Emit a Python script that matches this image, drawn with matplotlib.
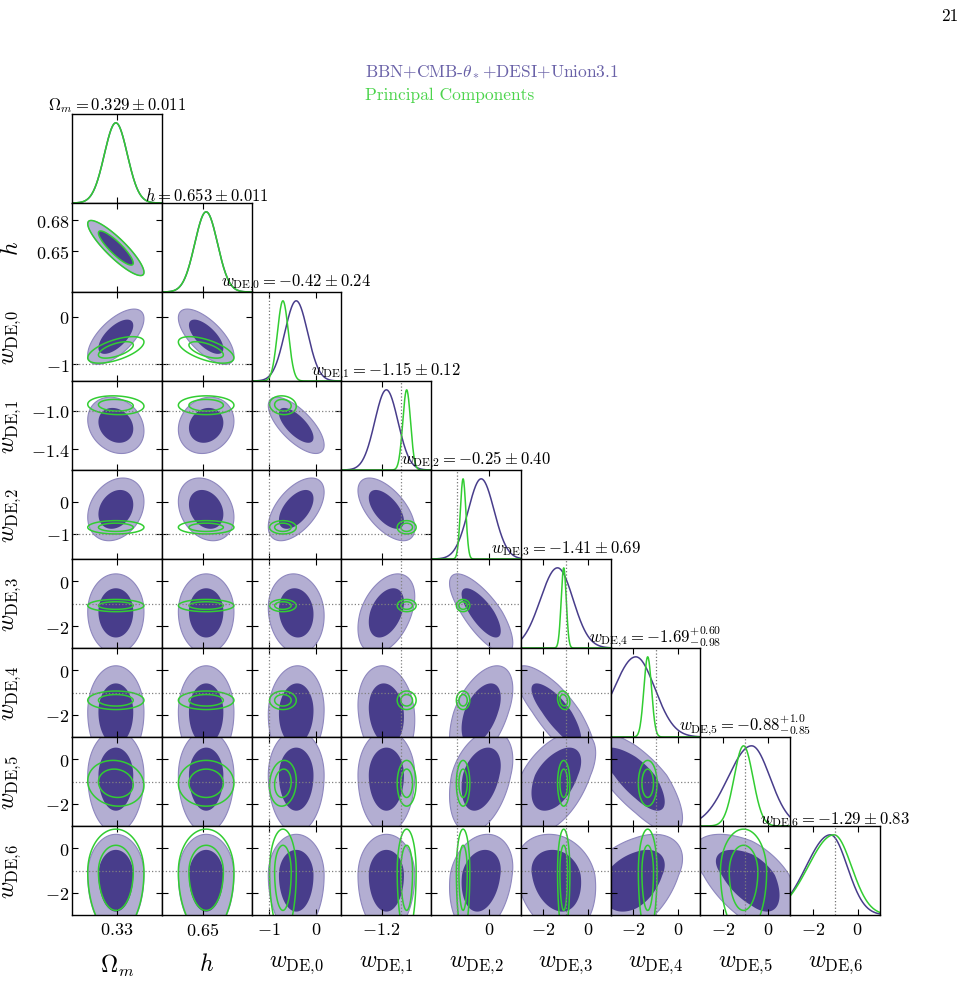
import numpy as np
import matplotlib
matplotlib.use("Agg")
import matplotlib.pyplot as plt

plt.rcParams['mathtext.fontset'] = 'cm'
plt.rcParams['font.family'] = 'serif'
plt.rcParams['font.serif'] = ['cmr10', 'DejaVu Serif']
plt.rcParams['axes.unicode_minus'] = False

# parameters, axis ranges, ticks
labels = [r'$\Omega_m$', r'$h$'] + [r'$w_{\rm DE{,}%d}$' % k for k in range(7)]
titles = [r'$\Omega_m = 0.329 \pm 0.011$',
          r'$h = 0.653 \pm 0.011$',
          r'$w_{\rm DE{,}0} = -0.42 \pm 0.24$',
          r'$w_{\rm DE{,}1} = -1.15 \pm 0.12$',
          r'$w_{\rm DE{,}2} = -0.25 \pm 0.40$',
          r'$w_{\rm DE{,}3} = -1.41 \pm 0.69$',
          r'$w_{\rm DE{,}4} = -1.69^{+0.60}_{-0.98}$',
          r'$w_{\rm DE{,}5} = -0.88^{+1.0}_{-0.85}$',
          r'$w_{\rm DE{,}6} = -1.29 \pm 0.83$']
lims = [(0.287, 0.373), (0.610, 0.697), (-1.36, 0.53), (-1.616, -0.687),
        (-1.79, 0.99), (-2.95, 0.97), (-3.0, 1.0), (-3.0, 1.0), (-3.0, 1.0)]
xticks = [[0.33], [0.65], [-1, 0], [-1.2], [0], [-2, 0], [-2, 0], [-2, 0], [-2, 0]]
xticklabels = [['0.33'], ['0.65'], ['-1', '0'], ['-1.2'], ['0'],
               ['-2', '0'], ['-2', '0'], ['-2', '0'], ['-2', '0']]
yticks = [[], [0.65, 0.68], [-1, 0], [-1.4, -1.0], [-1, 0], [-2, 0], [-2, 0], [-2, 0], [-2, 0]]
yticklabels = [[], ['0.65', '0.68'], ['-1', '0'], ['-1.4', '-1.0'], ['-1', '0'],
               ['-2', '0'], ['-2', '0'], ['-2', '0'], ['-2', '0']]
is_w = [False, False, True, True, True, True, True, True, True]
w_ref = -1.0

# BBN+CMB-theta+DESI+Union3.1 (peak, lower / upper width)
blue_mode = [0.329, 0.653, -0.42, -1.15, -0.24, -1.35, -1.88, -0.72, -1.21]
blue_sig_lo = [0.011, 0.011, 0.24, 0.12, 0.40, 0.75, 0.97, 1.05, 1.08]
blue_sig_hi = [0.011, 0.011, 0.24, 0.12, 0.40, 0.68, 0.85, 0.82, 0.75]
blue_corr = [
    [],
    [-0.88],
    [0.65, -0.68],
    [-0.20, 0.15, -0.70],
    [0.25, -0.25, 0.55, -0.60],
    [0.00, 0.00, -0.10, 0.40, -0.75],
    [0.00, 0.00, 0.05, -0.15, 0.50, -0.80],
    [0.00, 0.00, 0.00, 0.00, 0.35, 0.50, -0.75],
    [0.00, 0.00, 0.00, 0.00, 0.20, -0.20, 0.40, -0.55],
]

# Principal Components
green_mode = [0.329, 0.653, -0.70, -0.94, -0.80, -1.08, -1.35, -1.08, -1.05]
green_sig_lo = [0.011, 0.011, 0.115, 0.04, 0.085, 0.11, 0.17, 0.42, 1.15]
green_sig_hi = [0.011, 0.011, 0.115, 0.04, 0.085, 0.11, 0.17, 0.42, 0.78]
green_corr = [
    [],
    [-0.88],
    [0.60, -0.60],
    [-0.10, 0.00, -0.10],
    [0.00, 0.00, 0.00, 0.00],
    [0.00, 0.00, 0.00, 0.00, 0.00],
    [0.00, 0.00, 0.00, 0.00, 0.00, -0.20],
    [-0.10, 0.00, 0.10, 0.00, 0.00, 0.00, 0.00],
    [0.00, 0.00, 0.00, 0.00, 0.00, 0.00, 0.00, 0.00],
]

dark = '#483D8B'
light = '#B3AED2'
light_edge = '#8E87BE'
green = '#32CD32'
lev68, lev95 = 2.30, 5.99


def zs(x, mode, lo, hi):
    return np.where(x < mode, (x - mode) / lo, (x - mode) / hi)


def r2(X, Y, mode, lo, hi, corr, i, j):
    zx = zs(X, mode[j], lo[j], hi[j])
    zy = zs(Y, mode[i], lo[i], hi[i])
    rho = corr[i][j]
    return (zx**2 - 2 * rho * zx * zy + zy**2) / (1 - rho**2)


n = 9
fig = plt.figure(figsize=(9.71, 10.04), dpi=100)
gs = fig.add_gridspec(n, n, left=72 / 971, right=880 / 971,
                      top=1 - 115 / 1004, bottom=1 - 916 / 1004,
                      wspace=0, hspace=0)

for i in range(n):
    for j in range(i + 1):
        ax = fig.add_subplot(gs[i, j])
        xs = np.linspace(lims[j][0], lims[j][1], 300)
        if i == j:
            yb = np.exp(-0.5 * zs(xs, blue_mode[i], blue_sig_lo[i], blue_sig_hi[i])**2)
            yg = np.exp(-0.5 * zs(xs, green_mode[i], green_sig_lo[i], green_sig_hi[i])**2)
            ax.plot(xs, yb, color=dark, lw=1.1)
            ax.plot(xs, yg, color=green, lw=1.1)
            if is_w[i]:
                ax.axvline(w_ref, color='0.45', ls=':', lw=0.9)
            ax.set_ylim(0, 1.11)
            ax.set_yticks([])
            ax.set_title(titles[i], fontsize=12, pad=2)
            ax.tick_params(direction='in', top=True, length=4, width=0.8)
        else:
            ys = np.linspace(lims[i][0], lims[i][1], 300)
            X, Y = np.meshgrid(xs, ys)
            rb = r2(X, Y, blue_mode, blue_sig_lo, blue_sig_hi, blue_corr, i, j)
            rg = r2(X, Y, green_mode, green_sig_lo, green_sig_hi, green_corr, i, j)
            ax.contourf(X, Y, rb, levels=[0, lev95], colors=[light], antialiased=True)
            ax.contour(X, Y, rb, levels=[lev95], colors=[light_edge], linewidths=0.8)
            ax.contourf(X, Y, rb, levels=[0, lev68], colors=[dark], antialiased=True)
            ax.contour(X, Y, rg, levels=[lev68, lev95], colors=[green], linewidths=1.1)
            if is_w[j]:
                ax.axvline(w_ref, color='0.5', ls=':', lw=0.9)
            if is_w[i]:
                ax.axhline(w_ref, color='0.5', ls=':', lw=0.9)
            ax.set_ylim(lims[i])
            ax.set_yticks(yticks[i])
            ax.tick_params(direction='in', top=True, right=True, length=4, width=0.8)
        ax.set_xlim(lims[j])
        ax.set_xticks(xticks[j])
        for sp in ax.spines.values():
            sp.set_linewidth(1.0)

        if i == n - 1:
            ax.set_xticklabels(['$%s$' % t for t in xticklabels[j]], fontsize=13)
            ax.tick_params(axis='x', pad=4)
            ax.set_xlabel(labels[j], fontsize=17)
            ax.xaxis.set_label_coords(0.5, -0.42)
        else:
            ax.set_xticklabels([])
        if j == 0 and i > 0:
            ax.set_yticklabels(['$%s$' % t for t in yticklabels[i]], fontsize=13)
            ax.tick_params(axis='y', pad=2)
            ax.set_ylabel(labels[i], fontsize=17)
            ax.yaxis.set_label_coords(-0.55, 0.5)
        elif i != j:
            ax.set_yticklabels([])

fig.text(365 / 971, 1 - 72 / 1004, r'BBN+CMB-$\theta_*$+DESI+Union3.1',
         color='#6A62A8', fontsize=12.5, va='center', ha='left')
fig.text(365 / 971, 1 - 95 / 1004, 'Principal Components',
         color='#4CD44C', fontsize=12.5, va='center', ha='left')
fig.text(958 / 971, 1 - 16 / 1004, '21', fontsize=12.5, va='center', ha='right')

fig.savefig('out.png', dpi=100)
